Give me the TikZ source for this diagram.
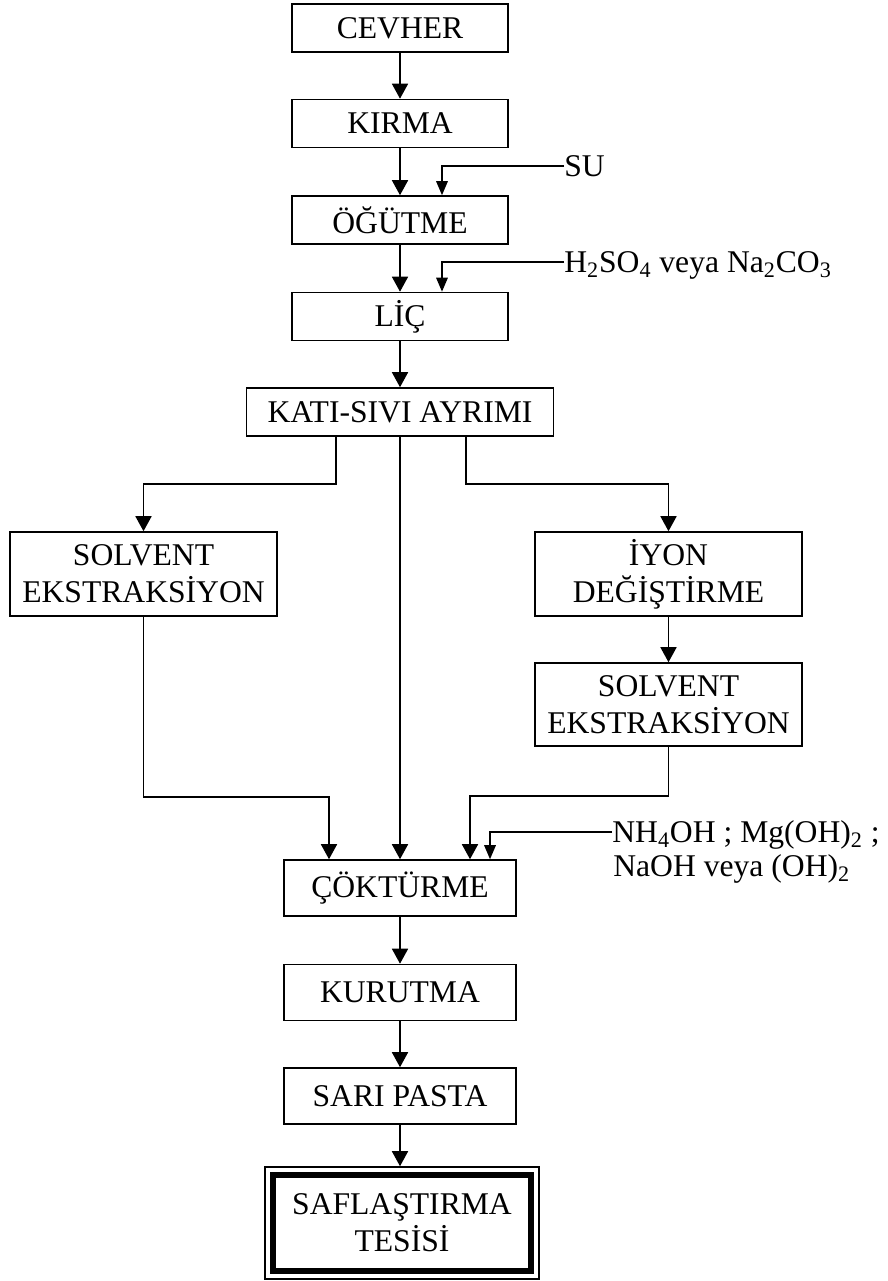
\documentclass[tikz,border=0pt]{standalone}
\usepackage{fontspec}
\setmainfont{Liberation Serif}
\usetikzlibrary{arrows.meta,calc,fit}

\begin{document}
\begin{tikzpicture}[x=0.02cm,y=-0.02cm,font=\fontsize{18}{21}\selectfont,
  box/.style={draw,line width=0.9pt,inner sep=1pt,align=center,minimum width=4.32cm,minimum height=0.96cm},
  lbl/.style={inner sep=0pt,anchor=west,text height=11.9pt,text depth=0pt},
  arr/.style={line width=0.9pt,-{Triangle[length=0.3cm,width=0.32cm]}},
  arrin/.style={line width=0.9pt,-{Triangle[length=0.28cm,width=0.23cm]}}]
\useasboundingbox (0,0) rectangle (887,1281);
% main column
\node[box] (cevher) at (400,28) {CEVHER};
\node[box] (kirma) at (400,123.5) {KIRMA};
\node[box] (ogutme) at (400,220) {ÖĞÜTME};
\node[box] (lic) at (400,316.5) {LİÇ};
\node[box,minimum width=6.14cm] (ayrim) at (400,412) {KATI-SIVI AYRIMI};
% side branches
\node[box,minimum width=5.34cm,minimum height=1.68cm] (solvA) at (143.5,574) {SOLVENT\\EKSTRAKSİYON};
\node[box,minimum width=5.34cm,minimum height=1.68cm] (iyon) at (668.5,574) {İYON\\DEĞİŞTİRME};
\node[box,minimum width=5.34cm,minimum height=1.66cm] (solvB) at (668.5,704.5) {SOLVENT\\EKSTRAKSİYON};
% lower column
\node[box,minimum width=4.64cm,minimum height=1.12cm] (cokturme) at (400,888) {ÇÖKTÜRME};
\node[box,minimum width=4.64cm,minimum height=1.12cm] (kurutma) at (400,992.5) {KURUTMA};
\node[box,minimum width=4.64cm,minimum height=1.12cm] (sari) at (400,1096) {SARI PASTA};
\node[draw,line width=3.8pt,outer sep=0pt,align=center,minimum width=5.16cm,minimum height=1.92cm] (tesis) at (402,1223) {SAFLAŞTIRMA\\TESİSİ};
\node[draw,line width=0.9pt,inner sep=0.16cm,fit=(tesis)] (tesisout) {};
% inputs
\node[lbl] (su) at (564,166) {SU};
\node[lbl] (asit) at (564,262) {H\textsubscript{2}SO\textsubscript{4} veya Na\textsubscript{2}CO\textsubscript{3}};
\node[lbl] (bazA) at (612,832) {NH\textsubscript{4}OH ; Mg(OH)\textsubscript{2} ;};
\node[lbl] (bazB) at (613,866) {NaOH veya (OH)\textsubscript{2}};

\draw[arr] (cevher) -- (kirma);
\draw[arr] (kirma) -- (ogutme);
\draw[arr] (ogutme) -- (lic);
\draw[arr] (lic) -- (ayrim);
\draw[arrin] (su.west) -| ($(ogutme.north)+(42,0)$);
\draw[arrin] (asit.west) -| ($(lic.north)+(42,0)$);
\draw[arr] ($(ayrim.south)+(-64,0)$) -- ++(0,47) -| (solvA.north);
\draw[arr] ($(ayrim.south)+(66,0)$) -- ++(0,47) -| (iyon.north);
\draw[arr] (ayrim.south) -- (cokturme.north);
\draw[arr] (iyon) -- (solvB);
\draw[arr] (solvA.south) -- ++(0,180) -| ($(cokturme.north)+(-71,0)$);
\draw[arr] (solvB.south) -- ++(0,49) -| ($(cokturme.north)+(70,0)$);
\draw[arrin] (bazA.west) -| ($(cokturme.north)+(90,0)$);
\draw[arr] (cokturme) -- (kurutma);
\draw[arr] (kurutma) -- (sari);
\draw[arr] (sari.south) -- (sari.south |- tesisout.north);
\end{tikzpicture}
\end{document}
